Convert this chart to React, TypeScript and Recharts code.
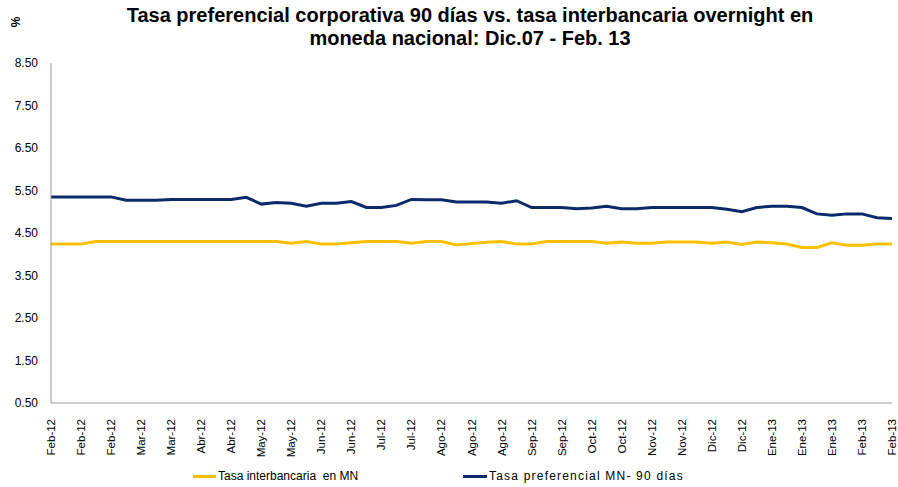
import React from "react";
import { Line, LineChart, XAxis, YAxis } from "recharts";

const tickLabels = [
  "Feb-12", "Feb-12", "Feb-12", "Mar-12", "Mar-12", "Abr-12", "Abr-12", "May-12", "May-12",
  "Jun-12", "Jun-12", "Jul-12", "Jul-12", "Ago-12", "Ago-12", "Ago-12", "Sep-12", "Sep-12",
  "Oct-12", "Oct-12", "Nov-12", "Nov-12", "Dic-12", "Dic-12", "Ene-13", "Ene-13", "Ene-13",
  "Feb-13", "Feb-13",
];

const interbancaria = [
  4.24, 4.24, 4.24, 4.3, 4.3, 4.3, 4.3, 4.3, 4.3, 4.3, 4.3, 4.3, 4.3, 4.3, 4.3, 4.3,
  4.26, 4.3, 4.24, 4.24, 4.27, 4.3, 4.3, 4.3, 4.26, 4.3, 4.3, 4.22, 4.25, 4.28, 4.3,
  4.24, 4.24, 4.3, 4.3, 4.3, 4.3, 4.26, 4.29, 4.26, 4.26, 4.29, 4.29, 4.29, 4.26, 4.29,
  4.23, 4.29, 4.27, 4.24, 4.16, 4.16, 4.27, 4.21, 4.21, 4.24, 4.24,
];

const preferencial = [
  5.35, 5.35, 5.35, 5.35, 5.35, 5.27, 5.27, 5.27, 5.29, 5.29, 5.29, 5.29, 5.29, 5.34,
  5.18, 5.22, 5.2, 5.13, 5.2, 5.2, 5.24, 5.1, 5.1, 5.15, 5.29, 5.28, 5.28, 5.23, 5.23,
  5.23, 5.2, 5.26, 5.1, 5.1, 5.1, 5.07, 5.09, 5.13, 5.07, 5.07, 5.1, 5.1, 5.1, 5.1,
  5.1, 5.06, 5.0, 5.1, 5.13, 5.13, 5.1, 4.95, 4.92, 4.95, 4.95, 4.86, 4.84,
];

const yTicks = [0.5, 1.5, 2.5, 3.5, 4.5, 5.5, 6.5, 7.5, 8.5];

const data = preferencial.map((p, i) => ({
  label: tickLabels[Math.floor(i / 2)],
  interbancaria: interbancaria[i],
  preferencial: p,
}));

const FONT = "'Liberation Sans', Arial, sans-serif";

function XTick({ x, y, payload }: any) {
  return (
    <text
      x={0}
      y={0}
      transform={`translate(${x},${y + 8}) rotate(-90)`}
      textAnchor="end"
      dominantBaseline="central"
      fontSize={11.5}
      fontFamily={FONT}
      fill="#000"
    >
      {payload.value}
    </text>
  );
}

export default function App() {
  return (
    <div style={{ position: "relative", width: 898, height: 487, background: "#fff", fontFamily: FONT }}>
      <style>{"body{margin:0}"}</style>
      <div
        style={{
          position: "absolute",
          left: 0,
          top: 4,
          width: 940,
          textAlign: "center",
          fontWeight: "bold",
          fontSize: 20,
          lineHeight: "23px",
          color: "#000",
        }}
      >
        Tasa preferencial corporativa 90 días vs. tasa interbancaria overnight en
        <br />
        moneda nacional: Dic.07 - Feb. 13
      </div>
      <div
        style={{
          position: "absolute",
          left: 11,
          top: 15,
          fontSize: 12,
          fontWeight: "bold",
          transform: "rotate(-90deg)",
        }}
      >
        %
      </div>
      <LineChart width={898} height={487} data={data} margin={{ top: 63, right: 6, bottom: 0, left: 0 }}>
        <XAxis
          dataKey="label"
          interval={1}
          height={84}
          tickLine={false}
          tick={<XTick />}
          stroke="#999"
        />
        <YAxis
          type="number"
          domain={[0.5, 8.5]}
          ticks={yTicks}
          width={51}
          tickLine={false}
          tickSize={6}
          tickMargin={7}
          tickFormatter={(v: number) => v.toFixed(2)}
          tick={{ fontSize: 12, fill: "#000", fontFamily: FONT }}
          stroke="#999"
        />
        <Line
          type="linear"
          dataKey="interbancaria"
          stroke="#FFC000"
          strokeWidth={3}
          dot={false}
          isAnimationActive={false}
        />
        <Line
          type="linear"
          dataKey="preferencial"
          stroke="#0A2A6B"
          strokeWidth={3}
          dot={false}
          isAnimationActive={false}
        />
      </LineChart>
      <div style={{ position: "absolute", top: 469, left: 193, fontSize: 12, display: "flex", alignItems: "center" }}>
        <span style={{ display: "inline-block", width: 23, height: 3, background: "#FFC000", marginRight: 2 }} />
        Tasa interbancaria&nbsp; en MN
      </div>
      <div
        style={{
          position: "absolute",
          top: 469,
          left: 463,
          fontSize: 12,
          letterSpacing: 1.2,
          display: "flex",
          alignItems: "center",
        }}
      >
        <span style={{ display: "inline-block", width: 24, height: 3, background: "#0A2A6B", marginRight: 2 }} />
        Tasa preferencial MN- 90 días
      </div>
    </div>
  );
}
